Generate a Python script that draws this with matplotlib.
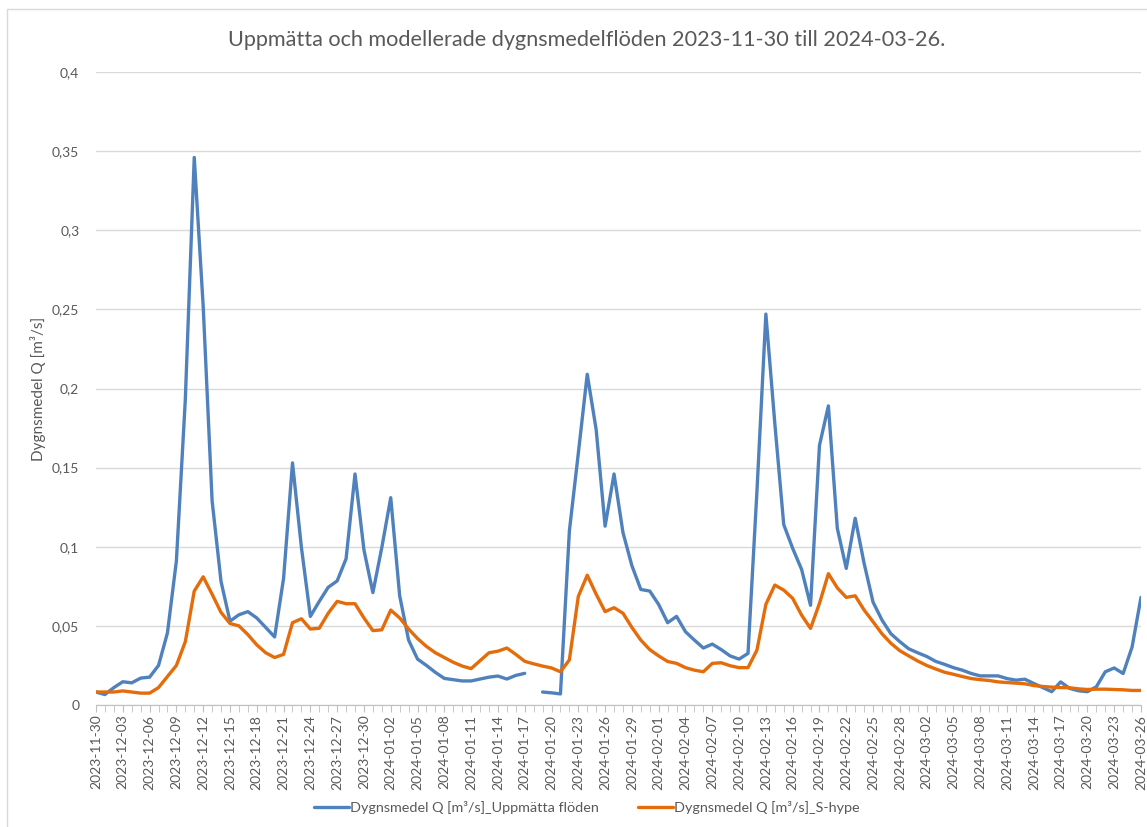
import matplotlib
matplotlib.use("Agg")
import matplotlib.pyplot as plt
import matplotlib.dates as mdates
from matplotlib.patches import Rectangle
import numpy as np
import pandas as pd

# data, one value per day 2023-11-30 .. 2024-03-26
dates = pd.date_range("2023-11-30", "2024-03-26", freq="D")

uppmatt = [
    0.0082, 0.0066, 0.011, 0.0147, 0.014, 0.017, 0.0176, 0.025, 0.0456, 0.091,
    0.193, 0.346, 0.252, 0.129, 0.078, 0.053, 0.057, 0.059, 0.055, 0.049,
    0.043, 0.080, 0.153, 0.0995, 0.056, 0.0655, 0.0744, 0.0784, 0.0924, 0.146,
    0.098, 0.071, 0.0995, 0.131, 0.069, 0.041, 0.029, 0.025, 0.0206, 0.0168,
    0.016, 0.0152, 0.0152, 0.0164, 0.0176, 0.0183, 0.0164, 0.0187, 0.020, np.nan,
    0.0082, 0.0077, 0.007, 0.110, 0.159, 0.209, 0.174, 0.113, 0.146, 0.109,
    0.088, 0.073, 0.072, 0.0635, 0.052, 0.056, 0.0463, 0.041, 0.036, 0.0385,
    0.035, 0.031, 0.029, 0.0326, 0.135, 0.247, 0.178, 0.114, 0.099, 0.0857,
    0.063, 0.164, 0.189, 0.1116, 0.0863, 0.118, 0.0895, 0.065, 0.0537, 0.045,
    0.040, 0.0355, 0.033, 0.0307, 0.0276, 0.0257, 0.0236, 0.022, 0.0199, 0.0184,
    0.0184, 0.0184, 0.0167, 0.0157, 0.0163, 0.0136, 0.011, 0.0084, 0.0146, 0.0105,
    0.009, 0.0084, 0.0115, 0.021, 0.0234, 0.0199, 0.0366, 0.068,
]

shype = [
    0.0082, 0.0082, 0.0082, 0.0089, 0.0082, 0.0075, 0.0075, 0.011, 0.018, 0.025,
    0.040, 0.072, 0.081, 0.070, 0.0585, 0.0515, 0.050, 0.0445, 0.038, 0.033,
    0.030, 0.032, 0.052, 0.0545, 0.048, 0.0485, 0.058, 0.0655, 0.064, 0.064,
    0.055, 0.047, 0.0475, 0.060, 0.055, 0.048, 0.042, 0.037, 0.033, 0.030,
    0.027, 0.0246, 0.023, 0.028, 0.033, 0.034, 0.036, 0.032, 0.0276, 0.026,
    0.0246, 0.0234, 0.021, 0.0285, 0.0686, 0.082, 0.070, 0.059, 0.0615, 0.058,
    0.049, 0.041, 0.035, 0.031, 0.0275, 0.0263, 0.0236, 0.022, 0.021, 0.0263,
    0.0267, 0.0248, 0.0236, 0.0236, 0.0347, 0.0636, 0.0758, 0.0726, 0.0674, 0.0568,
    0.0484, 0.0642, 0.083, 0.074, 0.068, 0.069, 0.060, 0.0526, 0.045, 0.039,
    0.0343, 0.031, 0.0278, 0.025, 0.0228, 0.0207, 0.0194, 0.018, 0.0167, 0.016,
    0.0155, 0.0146, 0.0142, 0.0138, 0.0134, 0.0123, 0.0117, 0.0113, 0.011, 0.0109,
    0.0102, 0.0098, 0.010, 0.010, 0.0098, 0.0096, 0.0092, 0.0092,
]

ytick_vals = [0, 0.05, 0.1, 0.15, 0.2, 0.25, 0.3, 0.35, 0.4]
ytick_labels = ["0", "0,05", "0,1", "0,15", "0,2", "0,25", "0,3", "0,35", "0,4"]

label_blue = "Dygnsmedel Q [m³/s]_Uppmätta flöden"
label_orange = "Dygnsmedel Q [m³/s]_S-hype"
title = "Uppmätta och modellerade dygnsmedelflöden 2023-11-30 till 2024-03-26."

txt = "#595959"
plt.rcParams['font.family'] = ['Lato', 'DejaVu Sans']

fig = plt.figure(figsize=(11.47, 8.27), dpi=100)
ax = fig.add_axes([96 / 1147, 1 - 705 / 827, (1141 - 96) / 1147, (705 - 72) / 827])

ax.plot(dates, uppmatt, color="#4F81BD", lw=2.4, solid_joinstyle="round",
        solid_capstyle="round", label=label_blue)
ax.plot(dates, shype, color="#E46C0A", lw=2.4, solid_joinstyle="round",
        solid_capstyle="round", label=label_orange)

ax.set_xlim(dates[0], dates[-1])
ax.set_ylim(0, 0.4)
ax.set_yticks(ytick_vals)
ax.set_yticklabels(ytick_labels)
ax.grid(axis="y", color="#D9D9D9", lw=1)
ax.set_axisbelow(True)

ax.set_xticks(dates[::3])
ax.xaxis.set_major_formatter(mdates.DateFormatter("%Y-%m-%d"))
ax.xaxis.set_minor_locator(mdates.DayLocator())
plt.setp(ax.get_xticklabels(), rotation=90, ha="center", va="top")

ax.tick_params(axis="y", length=0, labelsize=10, labelcolor=txt, pad=12)
ax.tick_params(axis="x", which="both", length=5, color="#BFBFBF", labelsize=10,
               labelcolor=txt, pad=2)

for s in ["top", "right", "left"]:
    ax.spines[s].set_visible(False)
ax.spines["bottom"].set_color("#BFBFBF")

ax.set_ylabel("Dygnsmedel Q [m³/s]", fontsize=11, color=txt, labelpad=4)

fig.text(587 / 1147, 1 - 40 / 827, title, ha="center", va="center",
         fontsize=15.6, color=txt)

fig.legend(loc="center", bbox_to_anchor=(587 / 1147, 1 - 808 / 827), ncol=2,
           frameon=False, fontsize=10.4, labelcolor=txt, handlelength=2.4,
           handletextpad=0.1, columnspacing=2.7)

# chart border
fig.patches.append(Rectangle((7 / 1147, -0.01), 1.02, 1 - 9 / 827 + 0.01,
                             transform=fig.transFigure, fill=False,
                             edgecolor="#D9D9D9", lw=1))

fig.savefig("out.png", dpi=100)
